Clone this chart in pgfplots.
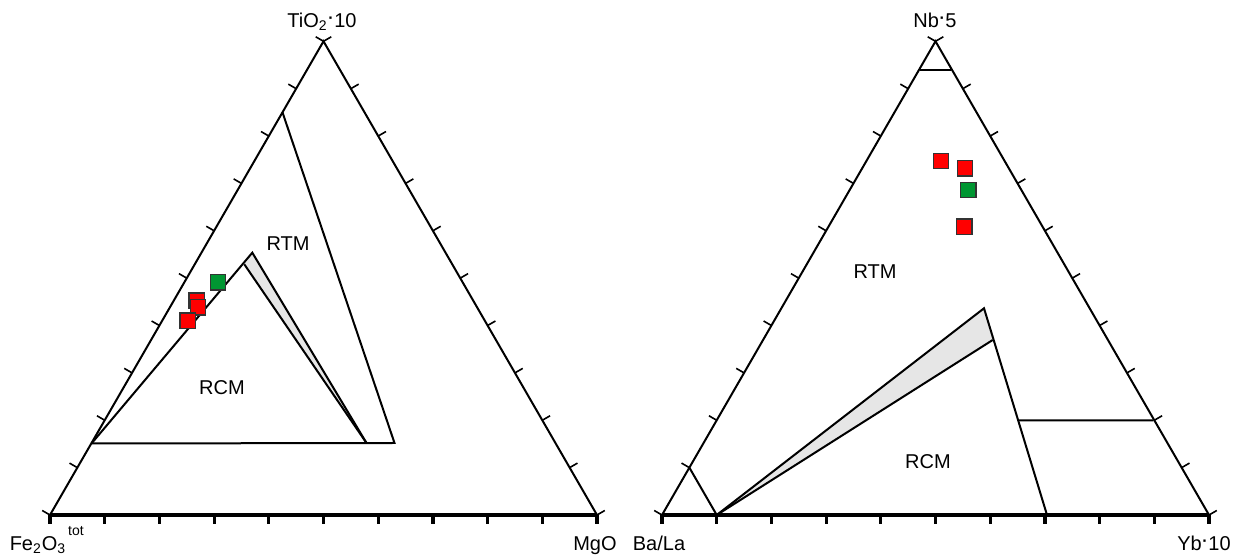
\documentclass[border=0pt]{standalone}
\usepackage{fontspec}
\setmainfont{Liberation Sans}
\usepackage{pgfplots}
\pgfplotsset{compat=1.18}
\definecolor{mkred}{RGB}{255,0,0}
\definecolor{mkgreen}{RGB}{0,150,50}
\definecolor{band}{RGB}{230,230,230}
\newcommand{\rdot}{\kern0.3pt\raisebox{0.45ex}{\footnotesize\textbf{·}}\kern0.3pt}
\begin{document}
\begin{tikzpicture}
\begin{axis}[
  scale only axis, width=618pt, height=278pt,
  xmin=0, xmax=1236, ymin=0, ymax=556,
  hide axis, clip=false,
  every node/.style={font=\fontsize{10}{12}\selectfont},
]
% ---------- LEFT DIAGRAM ----------
\addplot[fill=band, draw=none] coordinates {(244.3,291.7) (252.3,303.3) (366.5,113)} -- cycle;
\addplot[black, line width=1pt] coordinates {(91.5,112.5) (252.3,303.3) (366.5,113)};
\addplot[black, line width=1pt] coordinates {(244.3,291.7) (366.5,113)};
\addplot[black, line width=1pt] coordinates {(91.5,112.5) (394.5,113) (282.5,443.6)};
% outer triangle
\addplot[black, line width=1pt] coordinates {(50,41) (323.5,514.7) (597,41)};
\addplot[black, line width=1.7pt] coordinates {(50,41) (597,41)};
% ---------- RIGHT DIAGRAM ----------
\addplot[fill=band, draw=none] coordinates {(716.7,41) (984,247.7) (992.7,216)} -- cycle;
\addplot[black, line width=1pt] coordinates {(716.7,41) (984,247.7) (1047,41)};
\addplot[black, line width=1pt] coordinates {(716.7,41) (992.7,216)};
\addplot[black, line width=1pt] coordinates {(689.35,88.4) (716.7,41)};
\addplot[black, line width=1pt] coordinates {(1018.2,135.6) (1153.3,135.7)};
\addplot[black, line width=1pt] coordinates {(919.5,486) (950.5,486)};
\addplot[black, line width=1pt] coordinates {(662,41) (935.5,514.7) (1209,41)};
\addplot[black, line width=1.7pt] coordinates {(662,41) (1209,41)};
% ---------- ticks ----------
\pgfplotsinvokeforeach{0,...,10}{
  \draw[line width=0.8pt] (axis cs:{50+27.35*#1},{41+47.37*#1}) -- (axis cs:{42.2+27.35*#1},{45.5+47.37*#1});
  \draw[line width=0.8pt] (axis cs:{597-27.35*#1},{41+47.37*#1}) -- (axis cs:{604.8-27.35*#1},{45.5+47.37*#1});
  \draw[line width=1.6pt] (axis cs:{50+54.7*#1},41) -- (axis cs:{50+54.7*#1},32);
  \draw[line width=0.8pt] (axis cs:{662+27.35*#1},{41+47.37*#1}) -- (axis cs:{654.2+27.35*#1},{45.5+47.37*#1});
  \draw[line width=0.8pt] (axis cs:{1209-27.35*#1},{41+47.37*#1}) -- (axis cs:{1216.8-27.35*#1},{45.5+47.37*#1});
  \draw[line width=1.6pt] (axis cs:{662+54.7*#1},41) -- (axis cs:{662+54.7*#1},32);
}
% ---------- data ----------
\addplot[only marks, mark=square*, mark size=3.8pt,
  mark options={fill=mkred, draw=black!80, line width=0.65pt}]
  coordinates {(196.7,255.3) (198,248.7) (187.7,235.3)};
\addplot[only marks, mark=square*, mark size=3.8pt,
  mark options={fill=mkgreen, draw=black!80, line width=0.65pt}]
  coordinates {(218,273.7)};
\addplot[only marks, mark=square*, mark size=3.8pt,
  mark options={fill=mkred, draw=black!80, line width=0.65pt}]
  coordinates {(941,395) (965,387.7) (964.3,329.3)};
\addplot[only marks, mark=square*, mark size=3.8pt,
  mark options={fill=mkgreen, draw=black!80, line width=0.65pt}]
  coordinates {(968.3,366)};
% ---------- labels ----------
\node[anchor=base] at (axis cs:322,528) {TiO\textsubscript{2}\rdot10};
\node[anchor=base] at (axis cs:38,5) {Fe\textsubscript{2}O\textsubscript{3}};
\node[anchor=base, font=\fontsize{7}{9}\selectfont] at (axis cs:76,20) {tot};
\node[anchor=base] at (axis cs:595,5) {MgO};
\node[anchor=base] at (axis cs:935,528) {Nb\rdot5};
\node[anchor=base] at (axis cs:659,5) {Ba/La};
\node[anchor=base] at (axis cs:1204,5) {Yb\rdot10};
\node at (axis cs:288,312) {RTM};
\node at (axis cs:222,168) {RCM};
\node at (axis cs:875,284) {RTM};
\node at (axis cs:928,94) {RCM};
\end{axis}
\pgfresetboundingbox
\path[use as bounding box] (0,0) rectangle (618pt,278pt);
\end{tikzpicture}
\end{document}
